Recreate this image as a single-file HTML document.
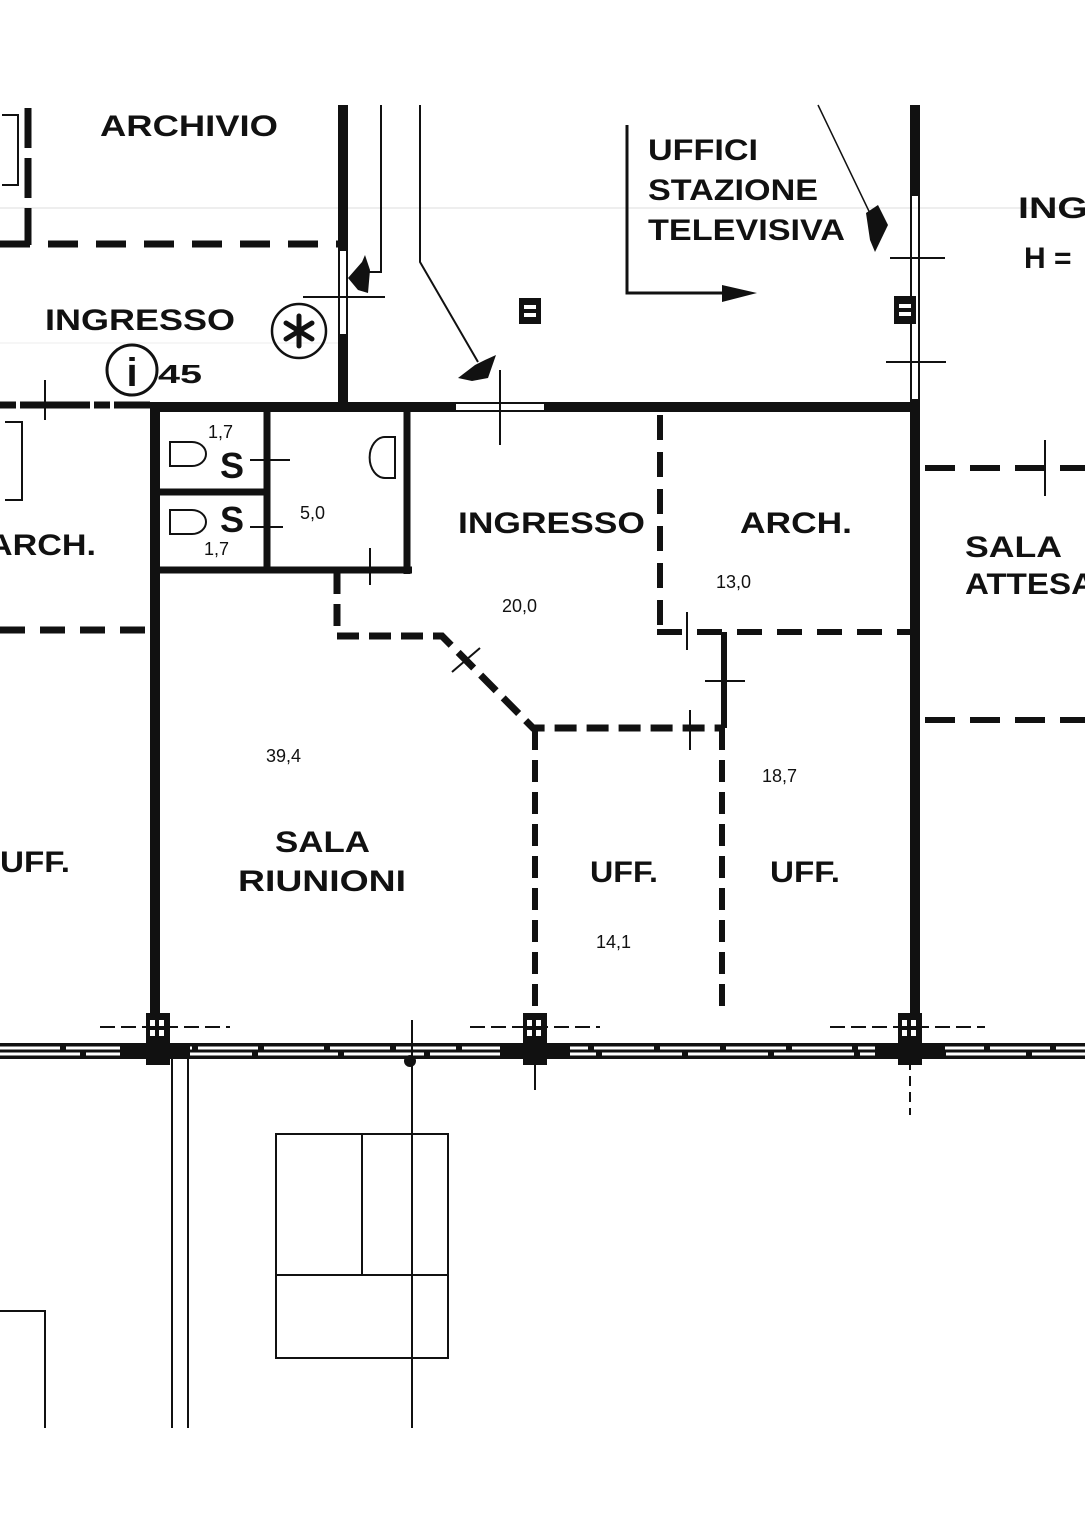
<!DOCTYPE html>
<html><head><meta charset="utf-8"><style>
html,body{margin:0;padding:0;background:#fff;}
svg{display:block;}
text{font-family:"Liberation Sans",sans-serif;fill:#111;}
.b{font-weight:bold;font-size:30px;}
.n{font-size:18px;}
</style></head><body>
<svg width="1085" height="1535" viewBox="0 0 1085 1535" xmlns="http://www.w3.org/2000/svg">
<g stroke="#111" fill="none" stroke-linecap="butt">
<line x1="0" y1="208" x2="1085" y2="208" stroke="#ddd" stroke-width="1"/>
<line x1="0" y1="343" x2="340" y2="343" stroke="#eee" stroke-width="1"/>
<path d="M2 115 H18 V185 H2" stroke-width="2"/>
<line x1="28" y1="108" x2="28" y2="245" stroke-width="7" stroke-dasharray="40 10"/>
<line x1="0" y1="244" x2="340" y2="244" stroke-width="7" stroke-dasharray="30 18"/>
<line x1="343" y1="105" x2="343" y2="250" stroke-width="10"/>
<rect x="339" y="250" width="8" height="85" stroke-width="2"/>
<line x1="343" y1="335" x2="343" y2="410" stroke-width="10"/>
<line x1="303" y1="297" x2="385" y2="297" stroke-width="2"/>
<path d="M381 105 V272 H360" stroke-width="2"/>
<path d="M420 105 V262 L478 362" stroke-width="2"/>
<line x1="150" y1="407" x2="455" y2="407" stroke-width="10"/>
<rect x="455" y="403" width="90" height="8" stroke-width="2"/>
<line x1="545" y1="407" x2="920" y2="407" stroke-width="10"/>
<line x1="500" y1="370" x2="500" y2="445" stroke-width="2"/>
<line x1="0" y1="405" x2="150" y2="405" stroke-width="7" stroke-dasharray="16 4 70 4"/>
<line x1="45" y1="380" x2="45" y2="420" stroke-width="2"/>
<path d="M5 422 H22 V500 H5" stroke-width="2"/>
<line x1="155" y1="407" x2="155" y2="1015" stroke-width="10"/>
<line x1="267" y1="407" x2="267" y2="572" stroke-width="7"/>
<line x1="150" y1="492" x2="267" y2="492" stroke-width="7"/>
<line x1="150" y1="570" x2="412" y2="570" stroke-width="7"/>
<line x1="407" y1="407" x2="407" y2="574" stroke-width="7"/>
<line x1="250" y1="460" x2="290" y2="460" stroke-width="2"/>
<line x1="250" y1="527" x2="283" y2="527" stroke-width="2"/>
<line x1="370" y1="548" x2="370" y2="585" stroke-width="2"/>
<path d="M170 442 H192 A14 12 0 0 1 192 466 H170 Z" stroke-width="2"/>
<path d="M170 510 H192 A14 12 0 0 1 192 534 H170 Z" stroke-width="2"/>
<path d="M395 437 V478 H385 A15 20 0 0 1 385 437 Z" stroke-width="2"/>
<path d="M337 572 V636 H442 L533 728 H722" stroke-width="7" stroke-dasharray="22 10"/>
<line x1="535" y1="728" x2="535" y2="1015" stroke-width="6" stroke-dasharray="22 10"/>
<line x1="452" y1="672" x2="480" y2="648" stroke-width="2"/>
<line x1="690" y1="710" x2="690" y2="750" stroke-width="2"/>
<line x1="724" y1="632" x2="724" y2="728" stroke-width="6"/>
<line x1="705" y1="681" x2="745" y2="681" stroke-width="2"/>
<line x1="722" y1="728" x2="722" y2="1015" stroke-width="6" stroke-dasharray="22 10"/>
<line x1="660" y1="415" x2="660" y2="632" stroke-width="6" stroke-dasharray="25 12"/>
<line x1="657" y1="632" x2="910" y2="632" stroke-width="6" stroke-dasharray="25 15"/>
<line x1="687" y1="612" x2="687" y2="650" stroke-width="2"/>
<line x1="0" y1="630" x2="150" y2="630" stroke-width="7" stroke-dasharray="25 15"/>
<line x1="915" y1="105" x2="915" y2="195" stroke-width="10"/>
<rect x="911" y="195" width="8" height="205" stroke-width="2"/>
<line x1="915" y1="400" x2="915" y2="1015" stroke-width="10"/>
<line x1="890" y1="258" x2="945" y2="258" stroke-width="2"/>
<line x1="886" y1="362" x2="946" y2="362" stroke-width="2"/>
<line x1="925" y1="468" x2="1085" y2="468" stroke-width="6" stroke-dasharray="30 15"/>
<line x1="1045" y1="440" x2="1045" y2="496" stroke-width="2"/>
<line x1="925" y1="720" x2="1085" y2="720" stroke-width="6" stroke-dasharray="30 15"/>
<path d="M627 125 V293 H745" stroke-width="3"/>
<path d="M818 105 L878 230" stroke-width="1.5"/>
<rect x="0" y="1043" width="1085" height="16" fill="#111" stroke="none"/>
<line x1="0" y1="1048" x2="1085" y2="1048" stroke="#fff" stroke-width="3" stroke-dasharray="60 6"/>
<line x1="0" y1="1054" x2="1085" y2="1054" stroke="#fff" stroke-width="3" stroke-dasharray="80 6"/>
<line x1="100" y1="1027" x2="230" y2="1027" stroke-width="2" stroke-dasharray="15 6"/>
<line x1="470" y1="1027" x2="600" y2="1027" stroke-width="2" stroke-dasharray="15 6"/>
<line x1="830" y1="1027" x2="985" y2="1027" stroke-width="2" stroke-dasharray="15 6"/>
<line x1="535" y1="1060" x2="535" y2="1090" stroke-width="2"/>
<line x1="910" y1="1060" x2="910" y2="1115" stroke-width="2" stroke-dasharray="10 6"/>
<line x1="172" y1="1058" x2="172" y2="1428" stroke-width="2"/>
<line x1="188" y1="1058" x2="188" y2="1428" stroke-width="2"/>
<rect x="276" y="1134" width="172" height="224" stroke-width="2"/>
<line x1="276" y1="1275" x2="448" y2="1275" stroke-width="2"/>
<line x1="362" y1="1134" x2="362" y2="1275" stroke-width="2"/>
<line x1="412" y1="1020" x2="412" y2="1428" stroke-width="2"/>
<path d="M0 1311 H45 V1428" stroke-width="2"/>
<circle cx="132" cy="370" r="25" stroke-width="3"/>
<circle cx="299" cy="331" r="27" stroke-width="2.5"/>
<g stroke-width="5" stroke-linecap="round">
<line x1="299" y1="316" x2="299" y2="346"/><line x1="286" y1="323" x2="312" y2="339"/><line x1="286" y1="339" x2="312" y2="323"/>
</g>
</g>
<g fill="#111">
<rect x="146" y="1013" width="24" height="52"/><rect x="523" y="1013" width="24" height="52"/><rect x="898" y="1013" width="24" height="52"/>
<rect x="150" y="1020" width="5" height="6" fill="#fff"/><rect x="159" y="1020" width="5" height="6" fill="#fff"/><rect x="150" y="1030" width="5" height="6" fill="#fff"/><rect x="159" y="1030" width="5" height="6" fill="#fff"/>
<rect x="527" y="1020" width="5" height="6" fill="#fff"/><rect x="536" y="1020" width="5" height="6" fill="#fff"/><rect x="527" y="1030" width="5" height="6" fill="#fff"/><rect x="536" y="1030" width="5" height="6" fill="#fff"/>
<rect x="902" y="1020" width="5" height="6" fill="#fff"/><rect x="911" y="1020" width="5" height="6" fill="#fff"/><rect x="902" y="1030" width="5" height="6" fill="#fff"/><rect x="911" y="1030" width="5" height="6" fill="#fff"/>
<rect x="120" y="1046" width="70" height="10"/><rect x="500" y="1046" width="70" height="10"/><rect x="875" y="1046" width="70" height="10"/>
<circle cx="410" cy="1061" r="6"/>
<rect x="519" y="298" width="22" height="26"/><rect x="524" y="305" width="12" height="4" fill="#fff"/><rect x="524" y="313" width="12" height="4" fill="#fff"/>
<rect x="894" y="296" width="22" height="28"/><rect x="899" y="304" width="12" height="4" fill="#fff"/><rect x="899" y="312" width="12" height="4" fill="#fff"/>
<polygon points="348,278 362,262 365,255 370,270 368,293 358,290"/>
<polygon points="458,378 475,365 485,360 496,355 488,378 472,381"/>
<polygon points="866,213 878,205 888,225 875,252 870,240"/>
<polygon points="722,285 757,293 722,302"/>
<text x="132" y="386" text-anchor="middle" style="font-size:40px;font-weight:bold">i</text>
</g>
<text class="b" x="100" y="136" textLength="178" lengthAdjust="spacingAndGlyphs">ARCHIVIO</text>
<text class="b" x="45" y="330" textLength="190" lengthAdjust="spacingAndGlyphs">INGRESSO</text>
<text class="b" x="158" y="383" style="font-size:26px" textLength="44" lengthAdjust="spacingAndGlyphs">45</text>
<text class="b" x="648" y="160" textLength="110" lengthAdjust="spacingAndGlyphs">UFFICI</text>
<text class="b" x="648" y="200" textLength="170" lengthAdjust="spacingAndGlyphs">STAZIONE</text>
<text class="b" x="648" y="240" textLength="197" lengthAdjust="spacingAndGlyphs">TELEVISIVA</text>
<text class="b" x="1018" y="218" textLength="70" lengthAdjust="spacingAndGlyphs">ING</text>
<text class="b" x="1024" y="268">H =</text>
<text class="b" x="-12" y="555" textLength="108" lengthAdjust="spacingAndGlyphs">ARCH.</text>
<text class="b" x="220" y="478" style="font-size:36px">S</text>
<text class="b" x="220" y="532" style="font-size:36px">S</text>
<text class="b" x="458" y="533" textLength="187" lengthAdjust="spacingAndGlyphs">INGRESSO</text>
<text class="b" x="740" y="533" textLength="112" lengthAdjust="spacingAndGlyphs">ARCH.</text>
<text class="b" x="965" y="557" textLength="97" lengthAdjust="spacingAndGlyphs">SALA</text>
<text class="b" x="965" y="594" textLength="130" lengthAdjust="spacingAndGlyphs">ATTESA</text>
<text class="b" x="0" y="872" textLength="70" lengthAdjust="spacingAndGlyphs">UFF.</text>
<text class="b" x="275" y="852" textLength="95" lengthAdjust="spacingAndGlyphs">SALA</text>
<text class="b" x="238" y="891" textLength="168" lengthAdjust="spacingAndGlyphs">RIUNIONI</text>
<text class="b" x="590" y="882" textLength="68" lengthAdjust="spacingAndGlyphs">UFF.</text>
<text class="b" x="770" y="882" textLength="70" lengthAdjust="spacingAndGlyphs">UFF.</text>
<text class="n" x="208" y="438">1,7</text>
<text class="n" x="300" y="519">5,0</text>
<text class="n" x="204" y="555">1,7</text>
<text class="n" x="502" y="612">20,0</text>
<text class="n" x="716" y="588">13,0</text>
<text class="n" x="266" y="762">39,4</text>
<text class="n" x="762" y="782">18,7</text>
<text class="n" x="596" y="948">14,1</text>
</svg>
</body></html>
